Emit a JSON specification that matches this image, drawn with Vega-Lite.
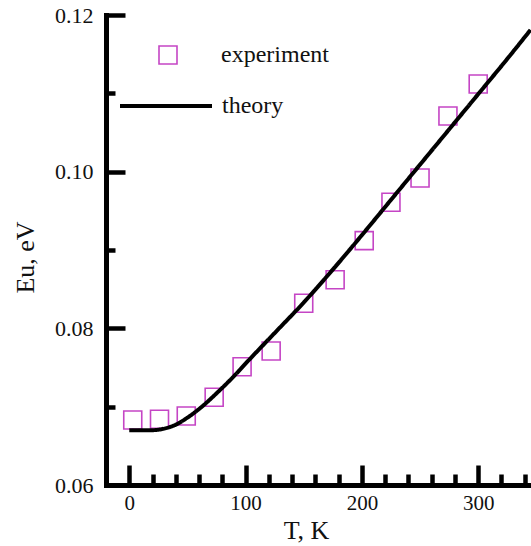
{
  "$schema": "https://vega.github.io/schema/vega-lite/v6.json",
  "autosize": "none",
  "padding": {"left": 106, "top": 15, "right": 0, "bottom": 61},
  "width": 425,
  "height": 470,
  "background": "white",
  "config": {
    "view": {"stroke": null},
    "font": "Liberation Serif",
    "axis": {
      "grid": false,
      "domainColor": "black",
      "domainWidth": 5,
      "domainCap": "square",
      "tickColor": "black",
      "tickWidth": 4.5,
      "labelFont": "Liberation Serif",
      "labelColor": "#111",
      "titleFont": "Liberation Serif",
      "titleFontSize": 26,
      "titleFontWeight": "normal",
      "titleColor": "#111"
    },
    "legend": {
      "labelFont": "Liberation Serif",
      "labelFontSize": 24,
      "labelColor": "#111"
    }
  },
  "resolve": {"axis": {"x": "independent", "y": "independent"}},
  "layer": [
    {
      "data": {
        "values": [
          {"T": 3, "Eu": 0.0683, "series": "experiment"},
          {"T": 26, "Eu": 0.0684, "series": "experiment"},
          {"T": 49, "Eu": 0.0688, "series": "experiment"},
          {"T": 73, "Eu": 0.0712, "series": "experiment"},
          {"T": 97, "Eu": 0.0751, "series": "experiment"},
          {"T": 122, "Eu": 0.0771, "series": "experiment"},
          {"T": 150, "Eu": 0.0832, "series": "experiment"},
          {"T": 177, "Eu": 0.0862, "series": "experiment"},
          {"T": 202, "Eu": 0.0912, "series": "experiment"},
          {"T": 225, "Eu": 0.0961, "series": "experiment"},
          {"T": 250, "Eu": 0.0992, "series": "experiment"},
          {"T": 274, "Eu": 0.1071, "series": "experiment"},
          {"T": 300, "Eu": 0.1112, "series": "experiment"}
        ]
      },
      "mark": {"type": "point", "filled": false, "size": 324, "stroke": "#c545c5", "strokeWidth": 1.6, "opacity": 1},
      "encoding": {
        "x": {
          "field": "T", "type": "quantitative",
          "scale": {"domain": [-20, 345.4], "nice": false, "zero": false},
          "axis": {
            "orient": "bottom",
            "title": "T, K",
            "values": [0, 100, 200, 300],
            "format": "d",
            "labelFontSize": 21,
            "tickSize": -20,
            "labelPadding": 27,
            "titleX": 200,
            "titleY": 45,
            "titleBaseline": "middle"
          }
        },
        "y": {
          "field": "Eu", "type": "quantitative",
          "scale": {"domain": [0.06, 0.12], "nice": false, "zero": false},
          "axis": {
            "orient": "left",
            "title": "Eu, eV",
            "values": [0.06, 0.08, 0.1, 0.12],
            "format": ".2f",
            "labelFontSize": 22,
            "tickSize": -19,
            "labelPadding": 32,
            "titleX": -81,
            "titleY": 242,
            "titleBaseline": "middle"
          }
        },
        "shape": {
          "field": "series", "type": "nominal",
          "scale": {"range": ["square"]},
          "legend": {
            "title": null,
            "orient": "none",
            "legendX": 50,
            "legendY": 28,
            "symbolSize": 324,
            "symbolStrokeColor": "#c545c5",
            "symbolFillColor": "transparent",
            "symbolStrokeWidth": 1.6,
            "labelOffset": 41
          }
        }
      }
    },
    {
      "data": {
        "values": [
          {"T": 0, "Eu": 0.0670, "series": "theory"},
          {"T": 10, "Eu": 0.0670, "series": "theory"},
          {"T": 20, "Eu": 0.0670, "series": "theory"},
          {"T": 30, "Eu": 0.0672, "series": "theory"},
          {"T": 40, "Eu": 0.0677, "series": "theory"},
          {"T": 50, "Eu": 0.0686, "series": "theory"},
          {"T": 60, "Eu": 0.0697, "series": "theory"},
          {"T": 75, "Eu": 0.0717, "series": "theory"},
          {"T": 90, "Eu": 0.0739, "series": "theory"},
          {"T": 100, "Eu": 0.0755, "series": "theory"},
          {"T": 125, "Eu": 0.0794, "series": "theory"},
          {"T": 150, "Eu": 0.0833, "series": "theory"},
          {"T": 175, "Eu": 0.0875, "series": "theory"},
          {"T": 200, "Eu": 0.0919, "series": "theory"},
          {"T": 225, "Eu": 0.0964, "series": "theory"},
          {"T": 250, "Eu": 0.1009, "series": "theory"},
          {"T": 275, "Eu": 0.1054, "series": "theory"},
          {"T": 300, "Eu": 0.1099, "series": "theory"},
          {"T": 325, "Eu": 0.1144, "series": "theory"},
          {"T": 345, "Eu": 0.1181, "series": "theory"}
        ]
      },
      "mark": {"type": "line", "color": "black", "strokeWidth": 4, "interpolate": "monotone"},
      "encoding": {
        "x": {
          "field": "T", "type": "quantitative",
          "axis": {
            "orient": "bottom",
            "title": null,
            "labels": false,
            "domain": false,
            "values": [20, 40, 60, 80, 120, 140, 160, 180, 220, 240, 260, 280, 320, 340],
            "tickSize": -11
          }
        },
        "y": {
          "field": "Eu", "type": "quantitative",
          "axis": {
            "orient": "left",
            "title": null,
            "labels": false,
            "domain": false,
            "values": [0.07, 0.09, 0.11],
            "tickSize": -9
          }
        },
        "strokeDash": {
          "field": "series", "type": "nominal",
          "scale": {"range": [[1, 0]]},
          "legend": {
            "title": null,
            "orient": "none",
            "legendX": 12,
            "legendY": 43,
            "symbolType": "stroke",
            "symbolSize": 8464,
            "symbolStrokeColor": "black",
            "symbolStrokeWidth": 4,
            "labelOffset": 8
          }
        }
      }
    }
  ]
}
